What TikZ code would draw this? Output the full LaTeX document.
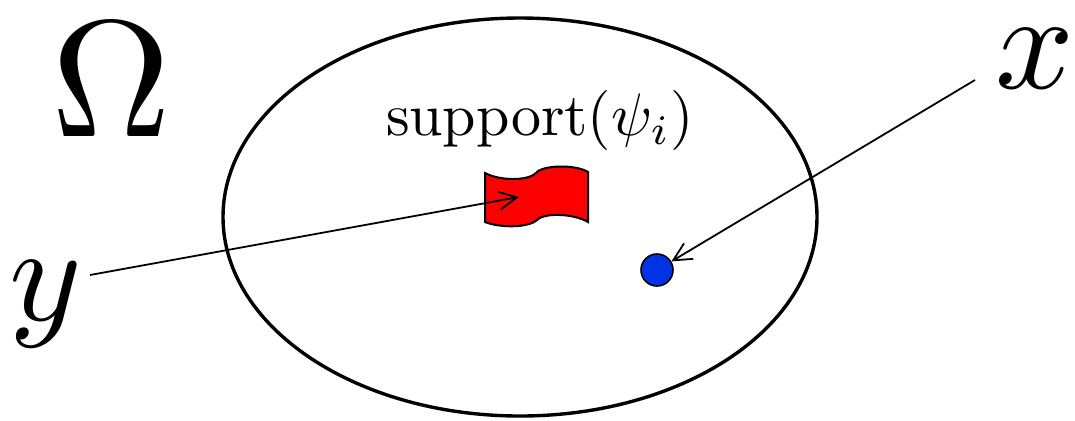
\documentclass[tikz,border=0pt]{standalone}
\usetikzlibrary{arrows.meta}
\usepackage{graphicx}
\definecolor{dotblue}{RGB}{0,51,230}
\definecolor{flagred}{RGB}{255,0,0}
\begin{document}
\begin{tikzpicture}[x=0.5pt,y=-0.5pt,
  region/.style={draw=black,line width=1.7pt},
  pointer/.style={draw=black,line width=0.9pt,-{Straight Barb[length=9pt,width=9pt]}},
  label/.style={inner sep=0pt,anchor=base}]
\useasboundingbox (0,0) rectangle (1075,420);
\draw[region] (520,217) ellipse [x radius=297, y radius=199];
\node[label] (omega) at (111,136) {\scalebox{8.3}{$\Omega$}};
\node[label] (xlab) at (1035,88) {\scalebox{6.9}{$x$}};
\node[label] (ylab) at (46,320) {\scalebox{6.9}{$y$}};
\node[label] (supp) at (540,135) {\scalebox{3.0}{$\mathrm{support}(\psi_i)$}};
% flag
\draw[fill=flagred,line width=1pt] (485,173) .. controls (500,181) and (528,181) .. (536,173)
  .. controls (542,165) and (575,164) .. (588,172) -- (588,222)
  .. controls (575,214) and (545,212) .. (537,220)
  .. controls (528,228) and (500,228) .. (485,222) -- cycle;
\node[circle,draw=black,line width=0.8pt,fill=dotblue,minimum size=16pt,inner sep=0pt] (dot) at (657,270) {};
\coordinate (ystart) at (90,275);
\coordinate (flagpt) at (519,197);
\coordinate (xstart) at (975,80);
\draw[pointer] (ystart) -- (flagpt);
\draw[pointer] (xstart) -- (dot);
\end{tikzpicture}
\end{document}
